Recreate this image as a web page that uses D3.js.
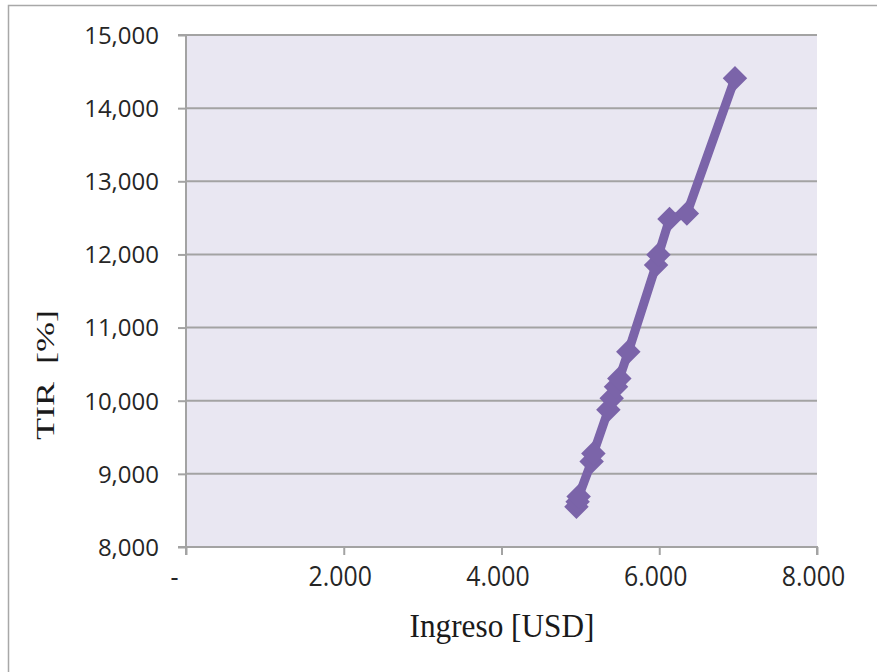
<!DOCTYPE html>
<html>
<head>
<meta charset="utf-8">
<script src="https://cdn.jsdelivr.net/npm/d3@7/dist/d3.min.js"></script>
<style>
  html, body { margin: 0; padding: 0; background: #ffffff; }
  svg { display: block; }
</style>
</head>
<body>
<svg id="chart" width="877" height="672"></svg>
<script>
// Ingreso (USD) vs TIR (%) series
const ingreso = [4950, 4965, 4978, 5143, 5165, 5355, 5397, 5452, 5494, 5608, 5960, 5990, 6130, 6350, 6960];
const tir     = [8550, 8620, 8690, 9170, 9280, 9875, 10035, 10190, 10305, 10670, 11855, 11995, 12485, 12560, 14410];

const xTicks = [0, 2000, 4000, 6000, 8000];
const xTickLabels = ["-", "2.000", "4.000", "6.000", "8.000"];
const yTicks = [8000, 9000, 10000, 11000, 12000, 13000, 14000, 15000];
const yTickLabels = ["8,000", "9,000", "10,000", "11,000", "12,000", "13,000", "14,000", "15,000"];

const xTitle = "Ingreso [USD]";
const yTitle = "TIR  [%]";

const plot = { left: 186, right: 817, top: 35, bottom: 547 };
const lineColor = "#7b64a9";
const gridColor = "#a3a3a3";

const svg = d3.select("#chart");

// outer chart frame
svg.append("rect")
  .attr("x", 8.5).attr("y", 5.5)
  .attr("width", 1000).attr("height", 1000)
  .attr("fill", "#ffffff")
  .attr("stroke", "#a8a8a8").attr("stroke-width", 1.5);

const x = d3.scaleLinear().domain([0, 8000]).range([plot.left, plot.right]);
const y = d3.scaleLinear().domain([8000, 15000]).range([plot.bottom, plot.top]);

// plot area background
svg.append("rect")
  .attr("x", plot.left).attr("y", plot.top)
  .attr("width", plot.right - plot.left).attr("height", plot.bottom - plot.top)
  .attr("fill", "#e9e7f2");

// horizontal gridlines
svg.append("g")
  .selectAll("line")
  .data(yTicks.filter(v => v > 8000))
  .join("line")
  .attr("x1", plot.left).attr("x2", plot.right)
  .attr("y1", d => y(d)).attr("y2", d => y(d))
  .attr("stroke", gridColor).attr("stroke-width", 2);

// y axis
const yAxis = d3.axisLeft(y)
  .tickValues(yTicks)
  .tickSize(8)
  .tickPadding(19)
  .tickFormat((d, i) => yTickLabels[i]);
const gy = svg.append("g")
  .attr("transform", `translate(${plot.left},0)`)
  .call(yAxis);
gy.select(".domain").attr("stroke", gridColor).attr("stroke-width", 2)
  .attr("d", `M-8,${plot.top}H0V${plot.bottom}H-8`);
gy.selectAll(".tick line").attr("stroke", gridColor).attr("stroke-width", 2);
gy.selectAll(".tick text")
  .attr("font-family", "'Open Sans', sans-serif")
  .attr("font-size", 24)
  .attr("fill", "#262626")
  .attr("dy", "0.35em");

// x axis
const xAxis = d3.axisBottom(x)
  .tickValues(xTicks)
  .tickSize(8)
  .tickPadding(12)
  .tickFormat((d, i) => xTickLabels[i]);
const gx = svg.append("g")
  .attr("transform", `translate(0,${plot.bottom})`)
  .call(xAxis);
gx.select(".domain").attr("stroke", gridColor).attr("stroke-width", 2)
  .attr("d", `M${plot.left},8V0H${plot.right}V8`);
gx.selectAll(".tick line").attr("stroke", gridColor).attr("stroke-width", 2);
gx.selectAll(".tick text")
  .attr("font-family", "'Open Sans', sans-serif")
  .attr("font-size", 27)
  .attr("fill", "#262626")
  .attr("transform", (d) => `translate(${d === 0 ? -12 : -4},0) scale(0.92,1)`)
  .attr("x", 0);

// series line
const line = d3.line()
  .x((d, i) => x(ingreso[i]))
  .y((d, i) => y(tir[i]));
svg.append("path")
  .datum(tir)
  .attr("d", line)
  .attr("fill", "none")
  .attr("stroke", lineColor)
  .attr("stroke-width", 9)
  .attr("stroke-linejoin", "round")
  .attr("stroke-linecap", "round");

// diamond markers
const diamond = d3.symbol().type(d3.symbolSquare).size(300);
svg.append("g")
  .selectAll("path")
  .data(tir)
  .join("path")
  .attr("d", diamond)
  .attr("transform", (d, i) => `translate(${x(ingreso[i])},${y(tir[i])}) rotate(45)`)
  .attr("fill", lineColor);

// axis titles
svg.append("text")
  .attr("transform", `translate(502,637) scale(0.92,1)`)
  .attr("text-anchor", "middle")
  .attr("font-family", "'Liberation Serif', 'Times New Roman', serif")
  .attr("font-size", 34)
  .attr("fill", "#1a1a1a")
  .text(xTitle);

svg.append("text")
  .attr("transform", `translate(54,375) rotate(-90) scale(1,0.72)`)
  .attr("text-anchor", "middle")
  .attr("font-family", "'Liberation Serif', 'Times New Roman', serif")
  .attr("font-size", 36)
  .attr("fill", "#1a1a1a")
  .style("white-space", "pre")
  .text(yTitle);
</script>
</body>
</html>
